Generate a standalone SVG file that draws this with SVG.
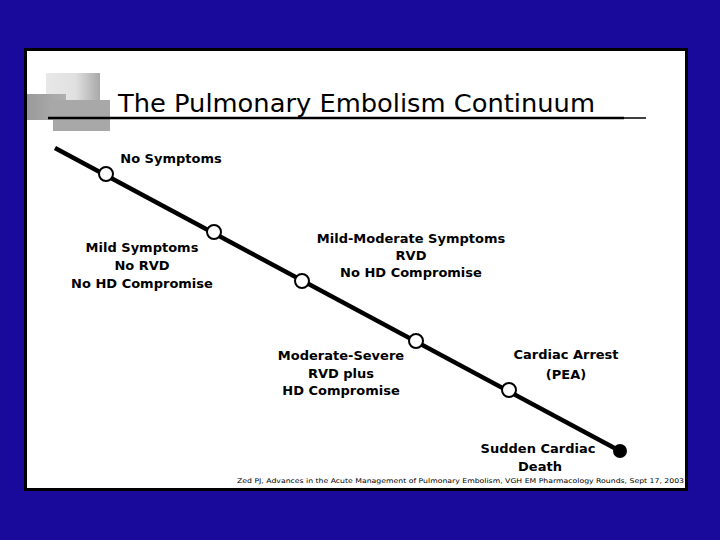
<svg xmlns="http://www.w3.org/2000/svg" width="720" height="540" viewBox="0 0 720 540">
<defs>
<style>
.lbl{font-family:"DejaVu Sans","Liberation Sans",sans-serif;font-weight:bold;font-size:13px;fill:#000;text-anchor:middle}
.open{fill:#fff;stroke:#000;stroke-width:2}
</style>
<linearGradient id="g1" x1="0" x2="1" y1="0" y2="0">
<stop offset="0" stop-color="#e8e8e8"/><stop offset="0.55" stop-color="#e0e0e0"/><stop offset="1" stop-color="#a8a8a8"/>
</linearGradient>
<linearGradient id="g2" x1="0" x2="1" y1="0" y2="0">
<stop offset="0" stop-color="#9a9a9a"/><stop offset="1" stop-color="#b0b0b0"/>
</linearGradient>
</defs>
<rect x="0" y="0" width="720" height="540" fill="#1a0a9c"/>
<rect x="25.5" y="49.5" width="661" height="440" fill="#fff" stroke="#000" stroke-width="3"/>
<g id="logo">
<rect x="46" y="73" width="54" height="32" fill="url(#g1)"/>
<rect x="27" y="94" width="39" height="26" fill="url(#g2)"/>
<rect x="53" y="100" width="57" height="31" fill="#a8a8a8"/>
</g>
<g id="title">
<text x="118" y="112" font-family="DejaVu Sans, Liberation Sans, sans-serif" font-size="25" textLength="477" lengthAdjust="spacingAndGlyphs" fill="#000">The Pulmonary Embolism Continuum</text>
<line x1="48" y1="118" x2="624" y2="118" stroke="#000" stroke-width="2.5"/>
<line x1="624" y1="118" x2="646" y2="118" stroke="#000" stroke-width="1.5"/>
</g>
<g id="connectors">
<line x1="55" y1="148" x2="620" y2="451" stroke="#000" stroke-width="4.5"/>
</g>
<g id="n1"><circle class="open" cx="106" cy="174" r="7"/><text class="lbl" x="171" y="163">No Symptoms</text></g>
<g id="n2"><circle class="open" cx="214" cy="232" r="7"/>
<text class="lbl" x="142" y="252">Mild Symptoms</text>
<text class="lbl" x="142" y="270">No RVD</text>
<text class="lbl" x="142" y="288">No HD Compromise</text></g>
<g id="n3"><circle class="open" cx="302" cy="281" r="7"/>
<text class="lbl" x="411" y="243">Mild-Moderate Symptoms</text>
<text class="lbl" x="411" y="260">RVD</text>
<text class="lbl" x="411" y="277">No HD Compromise</text></g>
<g id="n4"><circle class="open" cx="416" cy="341" r="7"/>
<text class="lbl" x="341" y="360">Moderate-Severe</text>
<text class="lbl" x="341" y="378">RVD plus</text>
<text class="lbl" x="341" y="395">HD Compromise</text></g>
<g id="n5"><circle class="open" cx="509" cy="390" r="7"/>
<text class="lbl" x="566" y="359">Cardiac Arrest</text>
<text class="lbl" x="566" y="379">(PEA)</text></g>
<g id="n6"><circle cx="620" cy="451" r="7" fill="#000"/>
<text class="lbl" x="538" y="453">Sudden Cardiac</text>
<text class="lbl" x="540" y="471">Death</text></g>
<text x="237" y="483" font-family="DejaVu Sans, Liberation Sans, sans-serif" font-size="6.5" textLength="447" lengthAdjust="spacingAndGlyphs" fill="#000">Zed PJ, Advances in the Acute Management of Pulmonary Embolism, VGH EM Pharmacology Rounds, Sept 17, 2003</text>
</svg>
